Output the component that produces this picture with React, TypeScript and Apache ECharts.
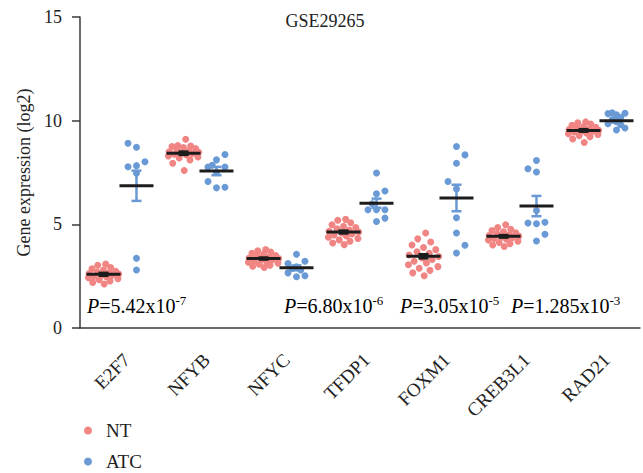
import React, { useEffect, useRef } from "react";
import * as echarts from "echarts";

const genes = ["E2F7", "NFYB", "NFYC", "TFDP1", "FOXM1", "CREB3L1", "RAD21"];
const yTicks = [0, 5, 10, 15];
const pLabels = ["5.42x10|-7", "6.80x10|-6", "3.05x10|-5", "1.285x10|-3"];

// NT (normal tissue) values per gene, sorted high to low
const ntE2F7 = [3.08, 3.03, 2.92, 2.86, 2.8, 2.74, 2.7, 2.66, 2.63, 2.6, 2.57, 2.54, 2.5, 2.47, 2.43, 2.38, 2.33, 2.27, 2.2, 2.12];
const ntNFYB = [9.1, 8.8, 8.78, 8.75, 8.7, 8.65, 8.6, 8.55, 8.5, 8.48, 8.45, 8.4, 8.38, 8.35, 8.3, 8.25, 8.2, 8.1, 7.95, 7.6];
const ntNFYC = [3.78, 3.72, 3.66, 3.6, 3.55, 3.5, 3.46, 3.42, 3.38, 3.35, 3.32, 3.29, 3.25, 3.21, 3.17, 3.13, 3.08, 3.03, 2.98, 2.92];
const ntTFDP1 = [5.24, 5.2, 5.08, 4.98, 4.9, 4.84, 4.78, 4.72, 4.67, 4.63, 4.58, 4.54, 4.49, 4.44, 4.38, 4.32, 4.25, 4.18, 4.1, 4.02];
const ntFOXM1 = [4.58, 4.3, 4.15, 4.0, 3.88, 3.78, 3.68, 3.6, 3.52, 3.45, 3.38, 3.3, 3.22, 3.14, 3.05, 2.96, 2.88, 2.78, 2.66, 2.52];
const ntCREB3L1 = [4.98, 4.85, 4.76, 4.7, 4.64, 4.59, 4.54, 4.5, 4.46, 4.43, 4.4, 4.36, 4.32, 4.28, 4.24, 4.19, 4.13, 4.07, 4.0, 3.93];
const ntRAD21 = [9.94, 9.9, 9.84, 9.78, 9.72, 9.68, 9.64, 9.6, 9.57, 9.54, 9.51, 9.48, 9.45, 9.41, 9.37, 9.33, 9.28, 9.22, 9.12, 8.95];

// ATC values per gene
const atcE2F7 = [8.91, 8.72, 8.02, 7.83, 7.78, 7.46, 3.36, 2.8];
const atcNFYB = [8.37, 8.11, 7.85, 7.76, 7.76, 7.5, 7.07, 6.79, 6.76];
const atcNFYC = [3.56, 3.22, 3.11, 2.95, 2.87, 2.8, 2.66, 2.52, 2.47];
const atcTFDP1 = [7.48, 6.61, 6.47, 5.99, 5.7, 5.7, 5.7, 5.3, 5.14];
const atcFOXM1 = [8.75, 8.35, 7.95, 7.07, 6.71, 5.32, 4.58, 3.99, 3.62];
const atcCREB3L1 = [8.08, 7.68, 7.52, 5.67, 5.1, 5.06, 5.03, 4.52, 4.2];
const atcRAD21 = [10.38, 10.36, 10.34, 10.28, 10.15, 10.05, 9.95, 9.85, 9.8, 9.65, 9.55];

// jitter (in dot steps) used to spread the dots sideways
const ntJitter = [0.3, -0.8, 1.0, -1.6, 0.0, 1.7, -0.9, 0.8, -2.0, 2.1, -0.2, 1.2, -1.3, 0.4, -2.1, 2.0, -0.6, 0.9, -1.5, 0.1];
const atcJitterE2F7 = [-1, 0, 1, 0, -1, 0, 0, 0];
const atcJitterNFYB = [1, 0, -0.5, -1, 1, 0, -1, 1, 0];
const atcJitterNFYC = [0, 1, -1, 0, -0.5, 0.5, -1, 1, 0];
const atcJitterTFDP1 = [0, 1, 0, -0.5, -1, 0, 1, 1, 0];
const atcJitterFOXM1 = [0, 1, 0, -1, 0, 0, 0, 1, 0];
const atcJitterCREB3L1 = [0, -1, 0, 0, 1, -1, 0, 1, 0];
const atcJitterRAD21 = [-0.5, 1, -1, 0, 0.5, -0.5, 0, -1, 0.5, 1, 0];

// mean and SEM
const ntMean = [2.59, 8.43, 3.35, 4.63, 3.46, 4.42, 9.53];
const ntSem = [0.07, 0.08, 0.05, 0.07, 0.1, 0.06, 0.06];
const atcMean = [6.86, 7.57, 2.9, 6.02, 6.27, 5.88, 9.99];
const atcSem = [0.73, 0.2, 0.12, 0.22, 0.64, 0.49, 0.08];

const ntGroups = [ntE2F7, ntNFYB, ntNFYC, ntTFDP1, ntFOXM1, ntCREB3L1, ntRAD21];
const atcGroups = [atcE2F7, atcNFYB, atcNFYC, atcTFDP1, atcFOXM1, atcCREB3L1, atcRAD21];
const atcJitters = [atcJitterE2F7, atcJitterNFYB, atcJitterNFYC, atcJitterTFDP1, atcJitterFOXM1, atcJitterCREB3L1, atcJitterRAD21];

const FONT = "'Liberation Serif', 'Times New Roman', serif";
const NT_COLOR = "#F08583";
const ATC_COLOR = "#6A9AD5";
const TEXT = "#222";
const AXIS = "#3a3a3a";
const OFFSET = 0.206;
const NT_STEP = 0.09;
const ATC_STEP = 0.106;

export default function App() {
  const ref = useRef<HTMLDivElement>(null);

  useEffect(() => {
    if (!ref.current) return;
    const chart = echarts.init(ref.current, null, { renderer: "svg" });

    const ntPoints: number[][] = [];
    ntGroups.forEach((vals, i) => {
      vals.forEach((v, j) => {
        ntPoints.push([i + 0.5 - OFFSET + ntJitter[j % ntJitter.length] * NT_STEP, v]);
      });
    });
    const atcPoints: number[][] = [];
    atcGroups.forEach((vals, i) => {
      vals.forEach((v, j) => {
        atcPoints.push([i + 0.5 + OFFSET + atcJitters[i][j] * ATC_STEP, v]);
      });
    });

    const ntBars = ntMean.map((m, i) => [i + 0.5 - OFFSET, m, ntSem[i]]);
    const atcBars = atcMean.map((m, i) => [i + 0.5 + OFFSET, m, atcSem[i]]);

    const makeRender = (color: string) => (params: any, api: any) => {
      const x = api.value(0);
      const m = api.value(1);
      const s = api.value(2);
      const c = api.coord([x, m]);
      const t = api.coord([x, m + s]);
      const b = api.coord([x, m - s]);
      const es = { stroke: color, lineWidth: 2.5 };
      return {
        type: "group",
        children: [
          { type: "line", shape: { x1: c[0], y1: t[1], x2: c[0], y2: b[1] }, style: es },
          { type: "line", shape: { x1: c[0] - 5, y1: t[1], x2: c[0] + 5, y2: t[1] }, style: es },
          { type: "line", shape: { x1: c[0] - 5, y1: b[1], x2: c[0] + 5, y2: b[1] }, style: es },
          {
            type: "line",
            shape: { x1: c[0] - 17, y1: c[1], x2: c[0] + 17, y2: c[1] },
            style: { stroke: "#1c1c1c", lineWidth: 3 },
          },
        ],
      };
    };

    const pX = [87, 284, 400, 511];
    const rich = {
      i: { fontStyle: "italic", fontSize: 20, fontFamily: FONT, color: TEXT, lineHeight: 24 },
      n: { fontSize: 20, fontFamily: FONT, color: TEXT, lineHeight: 24 },
      s: { fontSize: 13, fontFamily: FONT, color: TEXT, lineHeight: 14, verticalAlign: "top" },
    };

    chart.setOption({
      animation: false,
      backgroundColor: "#fff",
      title: {
        text: "GSE29265",
        left: 325,
        textAlign: "center",
        top: 12,
        padding: 0,
        textStyle: { fontSize: 18, fontWeight: "normal", fontFamily: FONT, color: TEXT },
      },
      grid: { left: 80, right: 3, top: 17, bottom: 145, containLabel: false },
      legend: {
        data: ["NT", "ATC"],
        orient: "vertical",
        left: 84,
        top: 421,
        padding: 0,
        itemGap: 12,
        itemWidth: 8,
        itemHeight: 8,
        icon: "circle",
        textStyle: { fontSize: 19, fontFamily: FONT, color: TEXT, padding: [0, 0, 0, 9] },
      },
      xAxis: [
        {
          type: "category",
          data: genes,
          boundaryGap: true,
          axisLine: { lineStyle: { color: AXIS, width: 1.5 } },
          axisTick: { show: false },
          axisLabel: {
            rotate: 45,
            margin: 22,
            verticalAlign: "top",
            fontSize: 19,
            fontFamily: FONT,
            color: TEXT,
            interval: 0,
          },
        },
        { type: "value", min: 0, max: 7, show: false },
      ],
      yAxis: {
        type: "value",
        min: yTicks[0],
        max: yTicks[yTicks.length - 1],
        interval: 5,
        name: "Gene expression (log2)",
        nameLocation: "middle",
        nameGap: 45,
        nameTextStyle: { fontSize: 18, fontFamily: FONT, color: TEXT },
        axisLine: { show: true, lineStyle: { color: AXIS, width: 1.5 } },
        axisTick: { show: true, length: 8, lineStyle: { color: AXIS, width: 1.5 } },
        axisLabel: { fontSize: 18, fontFamily: FONT, color: TEXT, margin: 18 },
        splitLine: { show: false },
      },
      series: [
        {
          name: "NT",
          type: "scatter",
          xAxisIndex: 1,
          data: ntPoints,
          symbolSize: 7,
          itemStyle: { color: NT_COLOR, opacity: 1 },
          z: 2,
        },
        {
          name: "ATC",
          type: "scatter",
          xAxisIndex: 1,
          data: atcPoints,
          symbolSize: 7,
          itemStyle: { color: ATC_COLOR, opacity: 1 },
          z: 2,
        },
        {
          name: "ntBars",
          type: "custom",
          xAxisIndex: 1,
          data: ntBars,
          encode: { x: 0, y: 1 },
          renderItem: makeRender("#1c1c1c"),
          z: 3,
        },
        {
          name: "atcBars",
          type: "custom",
          xAxisIndex: 1,
          data: atcBars,
          encode: { x: 0, y: 1 },
          renderItem: makeRender(ATC_COLOR),
          z: 3,
        },
      ],
      graphic: pLabels.map((p, k) => {
        const [base, exp] = p.split("|");
        return {
          type: "text",
          left: pX[k],
          top: 294,
          style: {
            text: `{i|P}{n|=${base}}{s|${exp}}`,
            rich,
          },
        };
      }),
    });

    return () => chart.dispose();
  }, []);

  return (
    <div
      ref={ref}
      style={{ position: "fixed", left: 0, top: 0, width: 643, height: 473, background: "#fff" }}
    />
  );
}
